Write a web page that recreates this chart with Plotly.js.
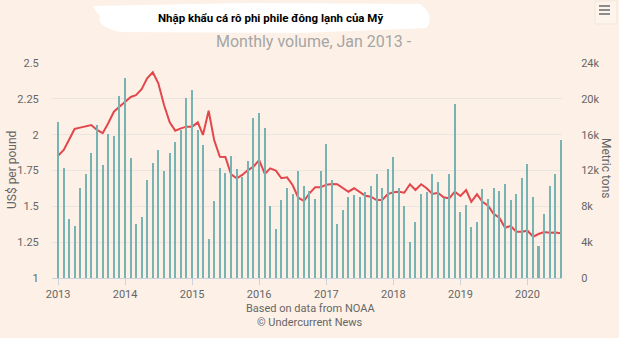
<!DOCTYPE html>
<html>
<head>
<meta charset="utf-8">
<script src="https://cdn.plot.ly/plotly-3.0.1.min.js"></script>
<style>html,body{margin:0;padding:0;background:#fdf1e7;}#chart{width:619px;height:338px;}</style>
</head>
<body>
<div id="chart"></div>
<script>
const startYear = 2013;
const monthCount = 91; // Jan 2013 – Jul 2020
const volumeTons = [
  17400,12250,6550,5770,10050,11640,13900,17050,12650,16100,15900,20300,
  22300,13400,6000,6850,10900,12840,14300,11980,13950,15200,16550,20060,
  20950,16500,14900,4350,8600,12300,11750,13600,12170,11240,13100,17900,
  18450,16800,8070,5470,8740,10050,9340,11940,10240,9680,8850,11980,
  14920,10900,6000,7600,9040,9230,9040,9640,10240,11570,10050,12170,
  13500,10050,8040,3980,6250,9340,9560,11570,10700,8930,11570,19420,
  7330,8200,5690,6250,9930,8850,10000,9710,10450,8670,9340,11200,
  12730,9080,3570,7100,10240,11570,15440
];
const pricePerPound = [
  1.853,1.893,1.963,2.040,2.049,2.058,2.067,2.033,2.010,2.080,2.160,2.195,
  2.230,2.263,2.275,2.317,2.393,2.435,2.358,2.207,2.086,2.028,2.044,2.056,
  2.056,2.086,1.998,2.167,1.963,1.846,1.844,1.723,1.696,1.719,1.753,1.777,
  1.823,1.726,1.765,1.749,1.696,1.702,1.649,1.560,1.537,1.591,1.633,1.633,
  1.651,1.656,1.654,1.626,1.602,1.626,1.602,1.574,1.567,1.544,1.544,1.586,
  1.598,1.602,1.595,1.654,1.614,1.654,1.626,1.586,1.595,1.563,1.556,1.602,
  1.572,1.614,1.532,1.584,1.532,1.505,1.447,1.421,1.351,1.363,1.323,1.323,
  1.330,1.288,1.307,1.321,1.316,1.318,1.312
];
const leftTicks = [1,1.25,1.5,1.75,2,2.25,2.5];
const rightTicks = [0,4000,8000,12000,16000,20000,24000];
const rightTickText = ['0','4k','8k','12k','16k','20k','24k'];
const yearTicks = ['2013','2014','2015','2016','2017','2018','2019','2020'];

const months = [];
for (let i = 0; i < monthCount; i++) {
  const y = startYear + Math.floor(i / 12);
  const m = (i % 12) + 1;
  months.push(y + '-' + String(m).padStart(2, '0') + '-01');
}

const FONT = 'Roboto, "Open Sans", sans-serif';
const traces = [
  {
    type: 'bar', x: months, y: volumeTons, yaxis: 'y2',
    marker: {color: '#78b3b3'},
    width: 1000*3600*24*11,
    hoverinfo: 'x+y'
  },
  {
    type: 'scatter', mode: 'lines', x: months, y: pricePerPound,
    line: {color: '#e2474c', width: 2},
    hoverinfo: 'x+y'
  }
];

function px(x){ return (x-52)/510; }
function py(y){ return (278-y)/215; }

const brush = 'M ' + px(92) + ' ' + py(6) +
  ' L ' + px(250) + ' ' + py(3) +
  ' L ' + px(420) + ' ' + py(4) +
  ' Q ' + px(436) + ' ' + py(16) + ' ' + px(426) + ' ' + py(28) +
  ' L ' + px(300) + ' ' + py(33) +
  ' L ' + px(120) + ' ' + py(32) +
  ' Q ' + px(96) + ' ' + py(26) + ' ' + px(100) + ' ' + py(16) + ' Z';

const menuLines = [6, 10, 14].map(y => ({
  type: 'line', xref: 'paper', yref: 'paper',
  x0: px(599), x1: px(610), y0: py(y), y1: py(y),
  line: {color: '#8c8c8c', width: 2}, layer: 'above'
}));

const layout = {
  width: 619, height: 338,
  paper_bgcolor: '#fdf1e7', plot_bgcolor: '#fdf1e7',
  margin: {l: 52, r: 57, t: 63, b: 60},
  showlegend: false,
  bargap: 0,
  font: {family: FONT, color: '#666666', size: 11},
  xaxis: {
    type: 'date',
    range: ['2012-11-29', '2020-07-07'],
    tickvals: yearTicks.map(y => y + '-01-01'),
    ticktext: yearTicks,
    ticks: 'outside', ticklen: 6, tickcolor: '#ccd2dc', tickwidth: 1,
    showline: true, linecolor: '#ccd2dc', linewidth: 1,
    showgrid: false, zeroline: false,
    tickfont: {size: 11, color: '#666666', family: FONT}
  },
  yaxis: {
    range: [1, 2.5],
    tickvals: leftTicks,
    ticks: 'outside', ticklen: 10, tickcolor: 'rgba(0,0,0,0)',
    showgrid: true, gridcolor: '#ebe5df', gridwidth: 1,
    zeroline: false, showline: false,
    tickfont: {size: 11, color: '#666666', family: FONT}
  },
  yaxis2: {
    range: [0, 24000], overlaying: 'y', side: 'right',
    tickvals: rightTicks, ticktext: rightTickText,
    ticks: 'outside', ticklen: 16, tickcolor: 'rgba(0,0,0,0)',
    showgrid: false, zeroline: false, showline: false,
    tickfont: {size: 11, color: '#666666', family: FONT}
  },
  shapes: [
    {type: 'path', xref: 'paper', yref: 'paper', path: brush,
     fillcolor: '#ffffff', line: {width: 0}, layer: 'above'},
    {type: 'rect', xref: 'paper', yref: 'paper',
     x0: px(595), x1: px(617), y0: py(1), y1: py(24),
     fillcolor: '#fdf4ec', line: {color: '#f3e6da', width: 1}, layer: 'above'}
  ].concat(menuLines),
  annotations: [
    {text: '<b>Nhập khẩu cá rô phi phile đông lạnh của Mỹ</b>', xref: 'paper', yref: 'paper',
     x: px(270), y: py(18), showarrow: false, xanchor: 'center', yanchor: 'middle',
     font: {family: 'Roboto, "Liberation Sans", sans-serif', size: 11.5, color: '#000000'}},
    {text: 'Monthly volume, Jan 2013 -', xref: 'paper', yref: 'paper',
     x: px(314), y: py(42), showarrow: false, xanchor: 'center', yanchor: 'middle',
     font: {family: FONT, size: 16, color: '#a5a5a5'}},
    {text: 'US$ per pound', xref: 'paper', yref: 'paper', textangle: -90,
     x: px(12), y: py(170), showarrow: false, xanchor: 'center', yanchor: 'middle',
     font: {family: FONT, size: 12, color: '#666666'}},
    {text: 'Metric tons', xref: 'paper', yref: 'paper', textangle: 90,
     x: px(606), y: py(168), showarrow: false, xanchor: 'center', yanchor: 'middle',
     font: {family: FONT, size: 12, color: '#666666'}},
    {text: 'Based on data from NOAA', xref: 'paper', yref: 'paper',
     x: px(310), y: py(308), showarrow: false, xanchor: 'center', yanchor: 'middle',
     font: {family: FONT, size: 11, color: '#666666'}},
    {text: '© Undercurrent News', xref: 'paper', yref: 'paper',
     x: px(310), y: py(322), showarrow: false, xanchor: 'center', yanchor: 'middle',
     font: {family: FONT, size: 11, color: '#666666'}}
  ]
};

Plotly.newPlot('chart', traces, layout, {displayModeBar: false, responsive: false});
</script>
</body>
</html>
